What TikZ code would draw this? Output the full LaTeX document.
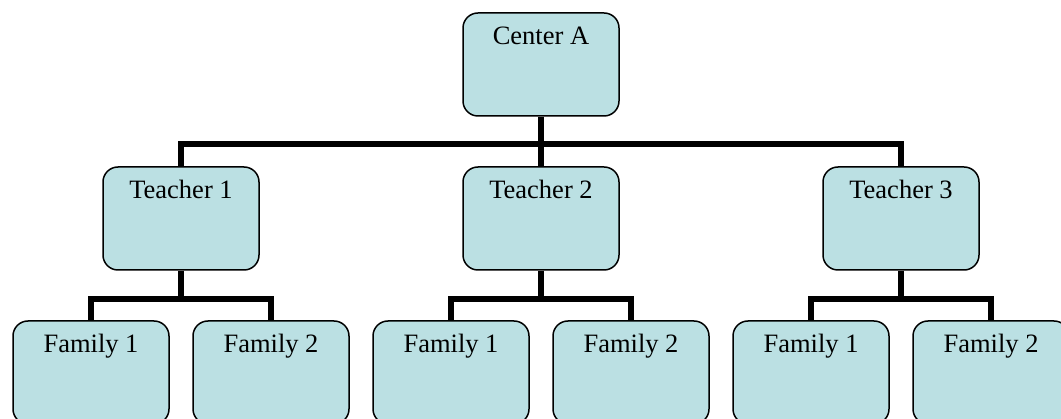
\documentclass[tikz,border=0pt]{standalone}
\usepackage{fontspec}
\setmainfont{Liberation Serif}
\begin{document}
\begin{tikzpicture}[x=1pt,y=-1pt,
  box/.style={draw=black,line width=1.5pt,fill=boxblue,rounded corners=15pt,
    minimum width=156pt,inner sep=0pt,text height=32pt,text depth=71pt,
    font=\fontsize{26.5}{30}\selectfont},
  conn/.style={draw=black,line width=5.5pt}]
\definecolor{boxblue}{RGB}{187,224,227}
\useasboundingbox (0,0) rectangle (1061,419);
\clip (0,0) rectangle (1061,419);
\node[box] (ca) at (541,64.5) {Center A};
\node[box] (t1) at (181,218.5) {Teacher 1};
\node[box] (t2) at (541,218.5) {Teacher 2};
\node[box] (t3) at (901,218.5) {Teacher 3};
\node[box] (f11) at (91,372.5) {Family 1};
\node[box] (f12) at (271,372.5) {Family 2};
\node[box] (f21) at (451,372.5) {Family 1};
\node[box] (f22) at (631,372.5) {Family 2};
\node[box] (f31) at (811,372.5) {Family 1};
\node[box] (f32) at (991,372.5) {Family 2};
\coordinate (b0) at (541,144);
\coordinate (b1) at (181,299);
\coordinate (b2) at (541,299);
\coordinate (b3) at (901,299);
\draw[conn] (ca.south) -- (b0);
\draw[conn] (b0) -- (t2.north);
\draw[conn] (t1.north) |- (b0) -| (t3.north);
\draw[conn] (t1.south) -- (b1);
\draw[conn] (f11.north) |- (b1) -| (f12.north);
\draw[conn] (t2.south) -- (b2);
\draw[conn] (f21.north) |- (b2) -| (f22.north);
\draw[conn] (t3.south) -- (b3);
\draw[conn] (f31.north) |- (b3) -| (f32.north);
\end{tikzpicture}
\end{document}
